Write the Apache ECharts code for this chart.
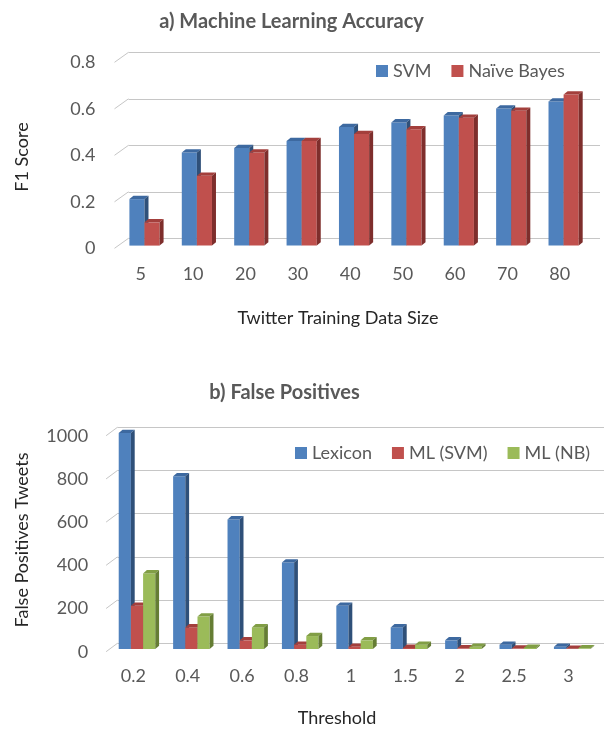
<!DOCTYPE html>
<html>
<head>
<meta charset="utf-8">
<script src="https://cdn.jsdelivr.net/npm/echarts@6/dist/echarts.min.js"></script>
<style>html,body{margin:0;padding:0;background:#fff}#c{width:604px;height:729px}</style>
</head>
<body>
<div id="c"></div>
<script>
// ---- data ----
var sizes = ['5','10','20','30','40','50','60','70','80'];
var svmF1 = [0.2,0.4,0.42,0.45,0.51,0.53,0.56,0.59,0.62];
var nbF1  = [0.1,0.3,0.4,0.45,0.48,0.5,0.55,0.58,0.65];
var f1Ticks = [0,0.2,0.4,0.6,0.8];

var thresholds = ['0.2','0.4','0.6','0.8','1','1.5','2','2.5','3'];
var lexiconFP = [1000,800,600,400,200,100,40,20,10];
var mlSvmFP   = [200,100,40,20,10,5,3,2,1];
var mlNbFP    = [350,150,100,60,40,20,10,5,3];
var fpTicks = [0,200,400,600,800,1000];

var FONT = 'Lato, "Open Sans", sans-serif';
var GRID_C = '#C6C6C6';

function pairs(arr){ return arr.map(function(v,i){return [i,v];}); }

function bar3D(cfg){
  return function(params, api){
    var i = api.value(0), v = api.value(1);
    var base = api.coord([i,0]), top = api.coord([i,v]);
    var band = api.size([1,0])[0];
    var w = band*cfg.ratio;
    var x = base[0] - cfg.n*w/2 + cfg.k*w + cfg.fx;
    var y0 = base[1] + cfg.fy, y1 = top[1] + cfg.fy;
    var dx = cfg.cx, dy = cfg.cy;
    return {type:'group', children:[
      {type:'rect', shape:{x:x, y:y1, width:w, height:Math.max(0,y0-y1)}, style:{fill:cfg.front}},
      {type:'polygon', shape:{points:[[x,y1],[x+dx,y1-dy],[x+w+dx,y1-dy],[x+w,y1]]}, style:{fill:cfg.top}},
      {type:'polygon', shape:{points:[[x+w,y1],[x+w+dx,y1-dy],[x+w+dx,y0-dy],[x+w,y0]]}, style:{fill:cfg.side}}
    ]};
  };
}
function diag(dx, dy){
  return function(params, api){
    var v = api.value(0);
    var y = api.coord([0, v])[1];
    var x = params.coordSys.x;
    return {type:'line', shape:{x1:x, y1:y, x2:x+dx, y2:y-dy}, style:{stroke:GRID_C, lineWidth:1}};
  };
}

var BLUE = {front:'#4F81BD', top:'#3D69A0', side:'#2F5079'};
var RED  = {front:'#C0504D', top:'#A33F3C', side:'#7E2E2C'};
var GREEN= {front:'#9BBB59', top:'#819E45', side:'#657D34'};
function cfgOf(c, extra){ var o = {front:c.front, top:c.top, side:c.side}; for (var k in extra) o[k]=extra[k]; return o; }

// geometry (layout)
var A = {left:114.5, width:471.5, top:62.3, height:186, bx:14, by:10};
var B = {left:106.1, width:489.6, top:435.7, height:216, bx:11.3, by:8.4};

var FS = 18;
var labelStyle = {color:'#595959', fontSize:FS, fontFamily:FONT};
function plain(v){ return String(v); }

var option = {
  animation:false,
  backgroundColor:'#fff',
  title:[
    {text:'a) Machine Learning Accuracy', left:291.5, top:21.5, textAlign:'center', textVerticalAlign:'middle', padding:0,
     textStyle:{color:'#595959', fontSize:20, fontWeight:'bold', fontFamily:FONT}},
    {text:'b) False Positives', left:284.5, top:393, textAlign:'center', textVerticalAlign:'middle', padding:0,
     textStyle:{color:'#595959', fontSize:20, fontWeight:'bold', fontFamily:FONT}}
  ],
  legend:[
    {data:['SVM','Naïve Bayes'], left:376, top:62, padding:0, icon:'rect', itemWidth:12, itemHeight:12, itemGap:20,
     textStyle:{color:'#595959', fontSize:FS, fontFamily:FONT}},
    {data:['Lexicon','ML (SVM)','ML (NB)'], left:295, top:444, padding:0, icon:'rect', itemWidth:12, itemHeight:12, itemGap:20,
     textStyle:{color:'#595959', fontSize:FS, fontFamily:FONT}}
  ],
  grid:[
    {left:A.left, top:A.top, width:A.width, height:A.height},
    {left:A.left+A.bx, top:A.top-A.by, width:A.width, height:A.height},
    {left:B.left, top:B.top, width:B.width, height:B.height},
    {left:B.left+B.bx, top:B.top-B.by, width:B.width, height:B.height}
  ],
  xAxis:[
    {gridIndex:0, type:'category', data:sizes, axisLine:{show:false}, axisTick:{show:false},
     axisLabel:Object.assign({margin:17}, labelStyle)},
    {gridIndex:1, type:'category', data:sizes, show:false},
    {gridIndex:2, type:'category', data:thresholds, axisLine:{show:false}, axisTick:{show:false},
     axisLabel:Object.assign({margin:15}, labelStyle)},
    {gridIndex:3, type:'category', data:thresholds, show:false}
  ],
  yAxis:[
    {gridIndex:0, type:'value', min:0, max:0.8, interval:0.2, splitLine:{show:false},
     axisLine:{show:false}, axisTick:{show:false}, axisLabel:Object.assign({margin:19, formatter:plain}, labelStyle)},
    {gridIndex:1, type:'value', min:0, max:0.8, interval:0.2, axisLabel:{show:false},
     axisLine:{show:false}, axisTick:{show:false}, splitLine:{show:true, lineStyle:{color:GRID_C, width:1}}},
    {gridIndex:2, type:'value', min:0, max:1000, interval:200, splitLine:{show:false},
     axisLine:{show:false}, axisTick:{show:false}, axisLabel:Object.assign({margin:18, formatter:plain}, labelStyle)},
    {gridIndex:3, type:'value', min:0, max:1000, interval:200, axisLabel:{show:false},
     axisLine:{show:false}, axisTick:{show:false}, splitLine:{show:true, lineStyle:{color:GRID_C, width:1}}}
  ],
  graphic:[
    {type:'text', x:22, y:157, rotation:Math.PI/2, style:{text:'F1 Score', fill:'#262626', font:FS+'px '+FONT, textAlign:'center', textVerticalAlign:'middle'}},
    {type:'text', x:338, y:318, style:{text:'Twitter Training Data Size', fill:'#262626', font:FS+'px '+FONT, textAlign:'center', textVerticalAlign:'middle'}},
    {type:'text', x:22, y:540, rotation:Math.PI/2, style:{text:'False Positives Tweets', fill:'#262626', font:FS+'px '+FONT, textAlign:'center', textVerticalAlign:'middle'}},
    {type:'text', x:337, y:718, style:{text:'Threshold', fill:'#262626', font:FS+'px '+FONT, textAlign:'center', textVerticalAlign:'middle'}}
  ],
  series:[
    {type:'custom', name:'diag1', xAxisIndex:0, yAxisIndex:0, data:f1Ticks.map(function(v){return [v];}),
     renderItem:diag(A.bx, A.by), silent:true, z:1},
    {type:'custom', name:'SVM', xAxisIndex:0, yAxisIndex:0, data:pairs(svmF1), itemStyle:{color:BLUE.front},
     renderItem:bar3D(cfgOf(BLUE,{n:2,k:0,ratio:0.288,fx:3.8,fy:-2.7,cx:4,cy:3.3}))},
    {type:'custom', name:'Naïve Bayes', xAxisIndex:0, yAxisIndex:0, data:pairs(nbF1), itemStyle:{color:RED.front},
     renderItem:bar3D(cfgOf(RED,{n:2,k:1,ratio:0.288,fx:3.8,fy:-2.7,cx:4,cy:3.3}))},
    {type:'custom', name:'diag2', xAxisIndex:2, yAxisIndex:2, data:fpTicks.map(function(v){return [v];}),
     renderItem:diag(B.bx, B.by), silent:true, z:1},
    {type:'custom', name:'Lexicon', xAxisIndex:2, yAxisIndex:2, data:pairs(lexiconFP), itemStyle:{color:BLUE.front},
     renderItem:bar3D(cfgOf(BLUE,{n:3,k:0,ratio:0.224,fx:3.7,fy:-2.7,cx:3.8,cy:3.3}))},
    {type:'custom', name:'ML (SVM)', xAxisIndex:2, yAxisIndex:2, data:pairs(mlSvmFP), itemStyle:{color:RED.front},
     renderItem:bar3D(cfgOf(RED,{n:3,k:1,ratio:0.224,fx:3.7,fy:-2.7,cx:3.8,cy:3.3}))},
    {type:'custom', name:'ML (NB)', xAxisIndex:2, yAxisIndex:2, data:pairs(mlNbFP), itemStyle:{color:GREEN.front},
     renderItem:bar3D(cfgOf(GREEN,{n:3,k:2,ratio:0.224,fx:3.7,fy:-2.7,cx:3.8,cy:3.3}))}
  ]
};
var chart = echarts.init(document.getElementById('c'), null, {renderer:'canvas'});
chart.setOption(option);
</script>
</body>
</html>
